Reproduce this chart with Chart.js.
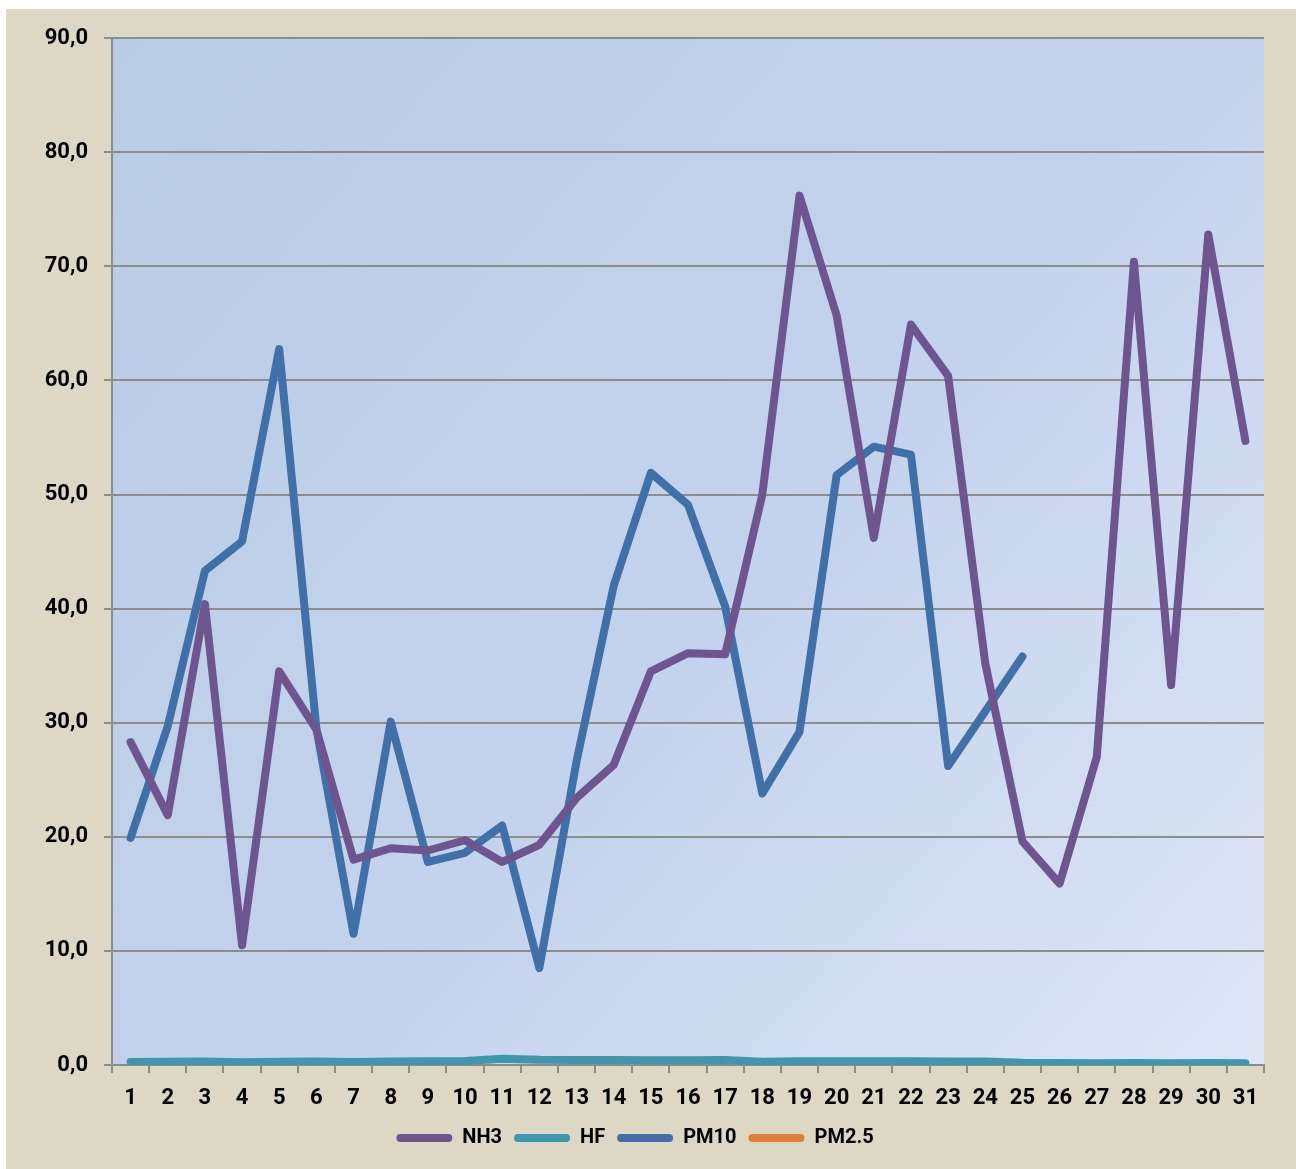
<!DOCTYPE html>
<html>
<head>
<meta charset="utf-8">
<script src="https://cdn.jsdelivr.net/npm/chart.js@4.4.1/dist/chart.umd.min.js"></script>
<style>
  html, body { margin: 0; padding: 0; background: #ffffff; }
  #wrap { position: absolute; left: 6px; top: 9px; width: 1290px; height: 1160px; background: #DDD8C3; }
  canvas { display: block; }
</style>
</head>
<body>
<div id="wrap"><canvas id="c" width="1290" height="1160"></canvas></div>
<script>
const categories = ['1','2','3','4','5','6','7','8','9','10','11','12','13','14','15','16','17','18','19','20','21','22','23','24','25','26','27','28','29','30','31'];
const nh3 = [28.3, 21.9, 40.4, 10.5, 34.5, 29.4, 18.0, 19.0, 18.8, 19.7, 17.8, 19.3, 23.4, 26.3, 34.5, 36.1, 36.0, 50.0, 76.2, 65.7, 46.2, 64.9, 60.4, 35.2, 19.6, 15.9, 27.0, 70.4, 33.3, 72.8, 54.7];
const hf = [0.26, 0.28, 0.30, 0.25, 0.28, 0.30, 0.27, 0.30, 0.32, 0.35, 0.55, 0.45, 0.44, 0.44, 0.42, 0.42, 0.43, 0.28, 0.33, 0.32, 0.33, 0.33, 0.30, 0.30, 0.20, 0.18, 0.15, 0.17, 0.15, 0.17, 0.15];
const pm10 = [19.9, 29.7, 43.3, 45.9, 62.75, 29.5, 11.5, 30.1, 17.8, 18.6, 21.0, 8.5, 26.6, 42.0, 51.9, 49.1, 40.2, 23.8, 29.2, 51.7, 54.2, 53.5, 26.2, 31.0, 35.8, null, null, null, null, null, null];
const pm25 = [null, null, null, null, null, null, null, null, null, null, null, null, null, null, null, null, null, null, null, null, null, null, null, null, null, null, null, null, null, null, null];
const yTicks = [0, 10, 20, 30, 40, 50, 60, 70, 80, 90];

const FONT = "'Roboto', 'Liberation Sans', sans-serif";

const plotBg = {
  id: 'plotBg',
  beforeDraw(chart) {
    const {ctx, chartArea: a} = chart;
    const g = ctx.createLinearGradient(a.left, a.top, a.right, a.bottom);
    g.addColorStop(0, '#B8CCE4');
    g.addColorStop(0.55, '#C4D3ED');
    g.addColorStop(1, '#DEE6F6');
    ctx.save();
    ctx.fillStyle = g;
    ctx.fillRect(a.left, a.top, a.right - a.left, a.bottom - a.top);
    ctx.restore();
  }
};

function ds(label, data, color) {
  return {
    label, data,
    borderColor: color, backgroundColor: color,
    borderWidth: 8, pointRadius: 0, pointHoverRadius: 0,
    tension: 0, borderCapStyle: 'round', borderJoinStyle: 'round',
    spanGaps: false
  };
}

new Chart(document.getElementById('c'), {
  type: 'line',
  data: {
    labels: categories,
    datasets: [
      ds('NH3', nh3, '#6F558E'),
      ds('HF', hf, '#3E96AF'),
      ds('PM10', pm10, '#4170A8'),
      ds('PM2.5', pm25, '#DF7F37')
    ]
  },
  options: {
    responsive: false,
    animation: false,
    events: [],
    layout: { padding: { left: 0, right: 32, top: 29, bottom: 11 } },
    scales: {
      x: {
        type: 'category',
        offset: true,
        grid: { display: true, drawOnChartArea: false, drawTicks: true, tickLength: 8, offset: true, color: '#8C8C8C', lineWidth: 2 },
        border: { display: true, color: '#8C8C8C', width: 2 },
        ticks: { color: '#000', font: { family: FONT, size: 22, weight: 'bold' }, padding: 12, maxRotation: 0, autoSkip: false },
        afterFit(s) { s.height = 51; }
      },
      y: {
        min: 0, max: 90,
        afterBuildTicks(s) { s.ticks = yTicks.map(v => ({ value: v })); },
        grid: { color: '#8C8C8C', lineWidth: 2, drawTicks: true, tickLength: 8 },
        border: { display: true, color: '#8C8C8C', width: 2 },
        ticks: {
          color: '#000', font: { family: FONT, size: 22, weight: 'bold' }, padding: 16,
          callback: v => v.toFixed(1).replace('.', ',')
        },
        afterFit(s) { s.width = 106; }
      }
    },
    plugins: {
      legend: {
        position: 'bottom',
        labels: {
          color: '#000',
          font: { family: FONT, size: 20, weight: 'bold' },
          boxWidth: 56, boxHeight: 8, padding: 12,
          useBorderRadius: true, borderRadius: 4,
          generateLabels(chart) {
            return chart.data.datasets.map((d, i) => ({
              text: d.label, fillStyle: d.borderColor, strokeStyle: d.borderColor,
              lineWidth: 0, hidden: false, datasetIndex: i, borderRadius: 4, fontColor: '#000'
            }));
          }
        }
      },
      tooltip: { enabled: false }
    }
  },
  plugins: [plotBg]
});
</script>
</body>
</html>
